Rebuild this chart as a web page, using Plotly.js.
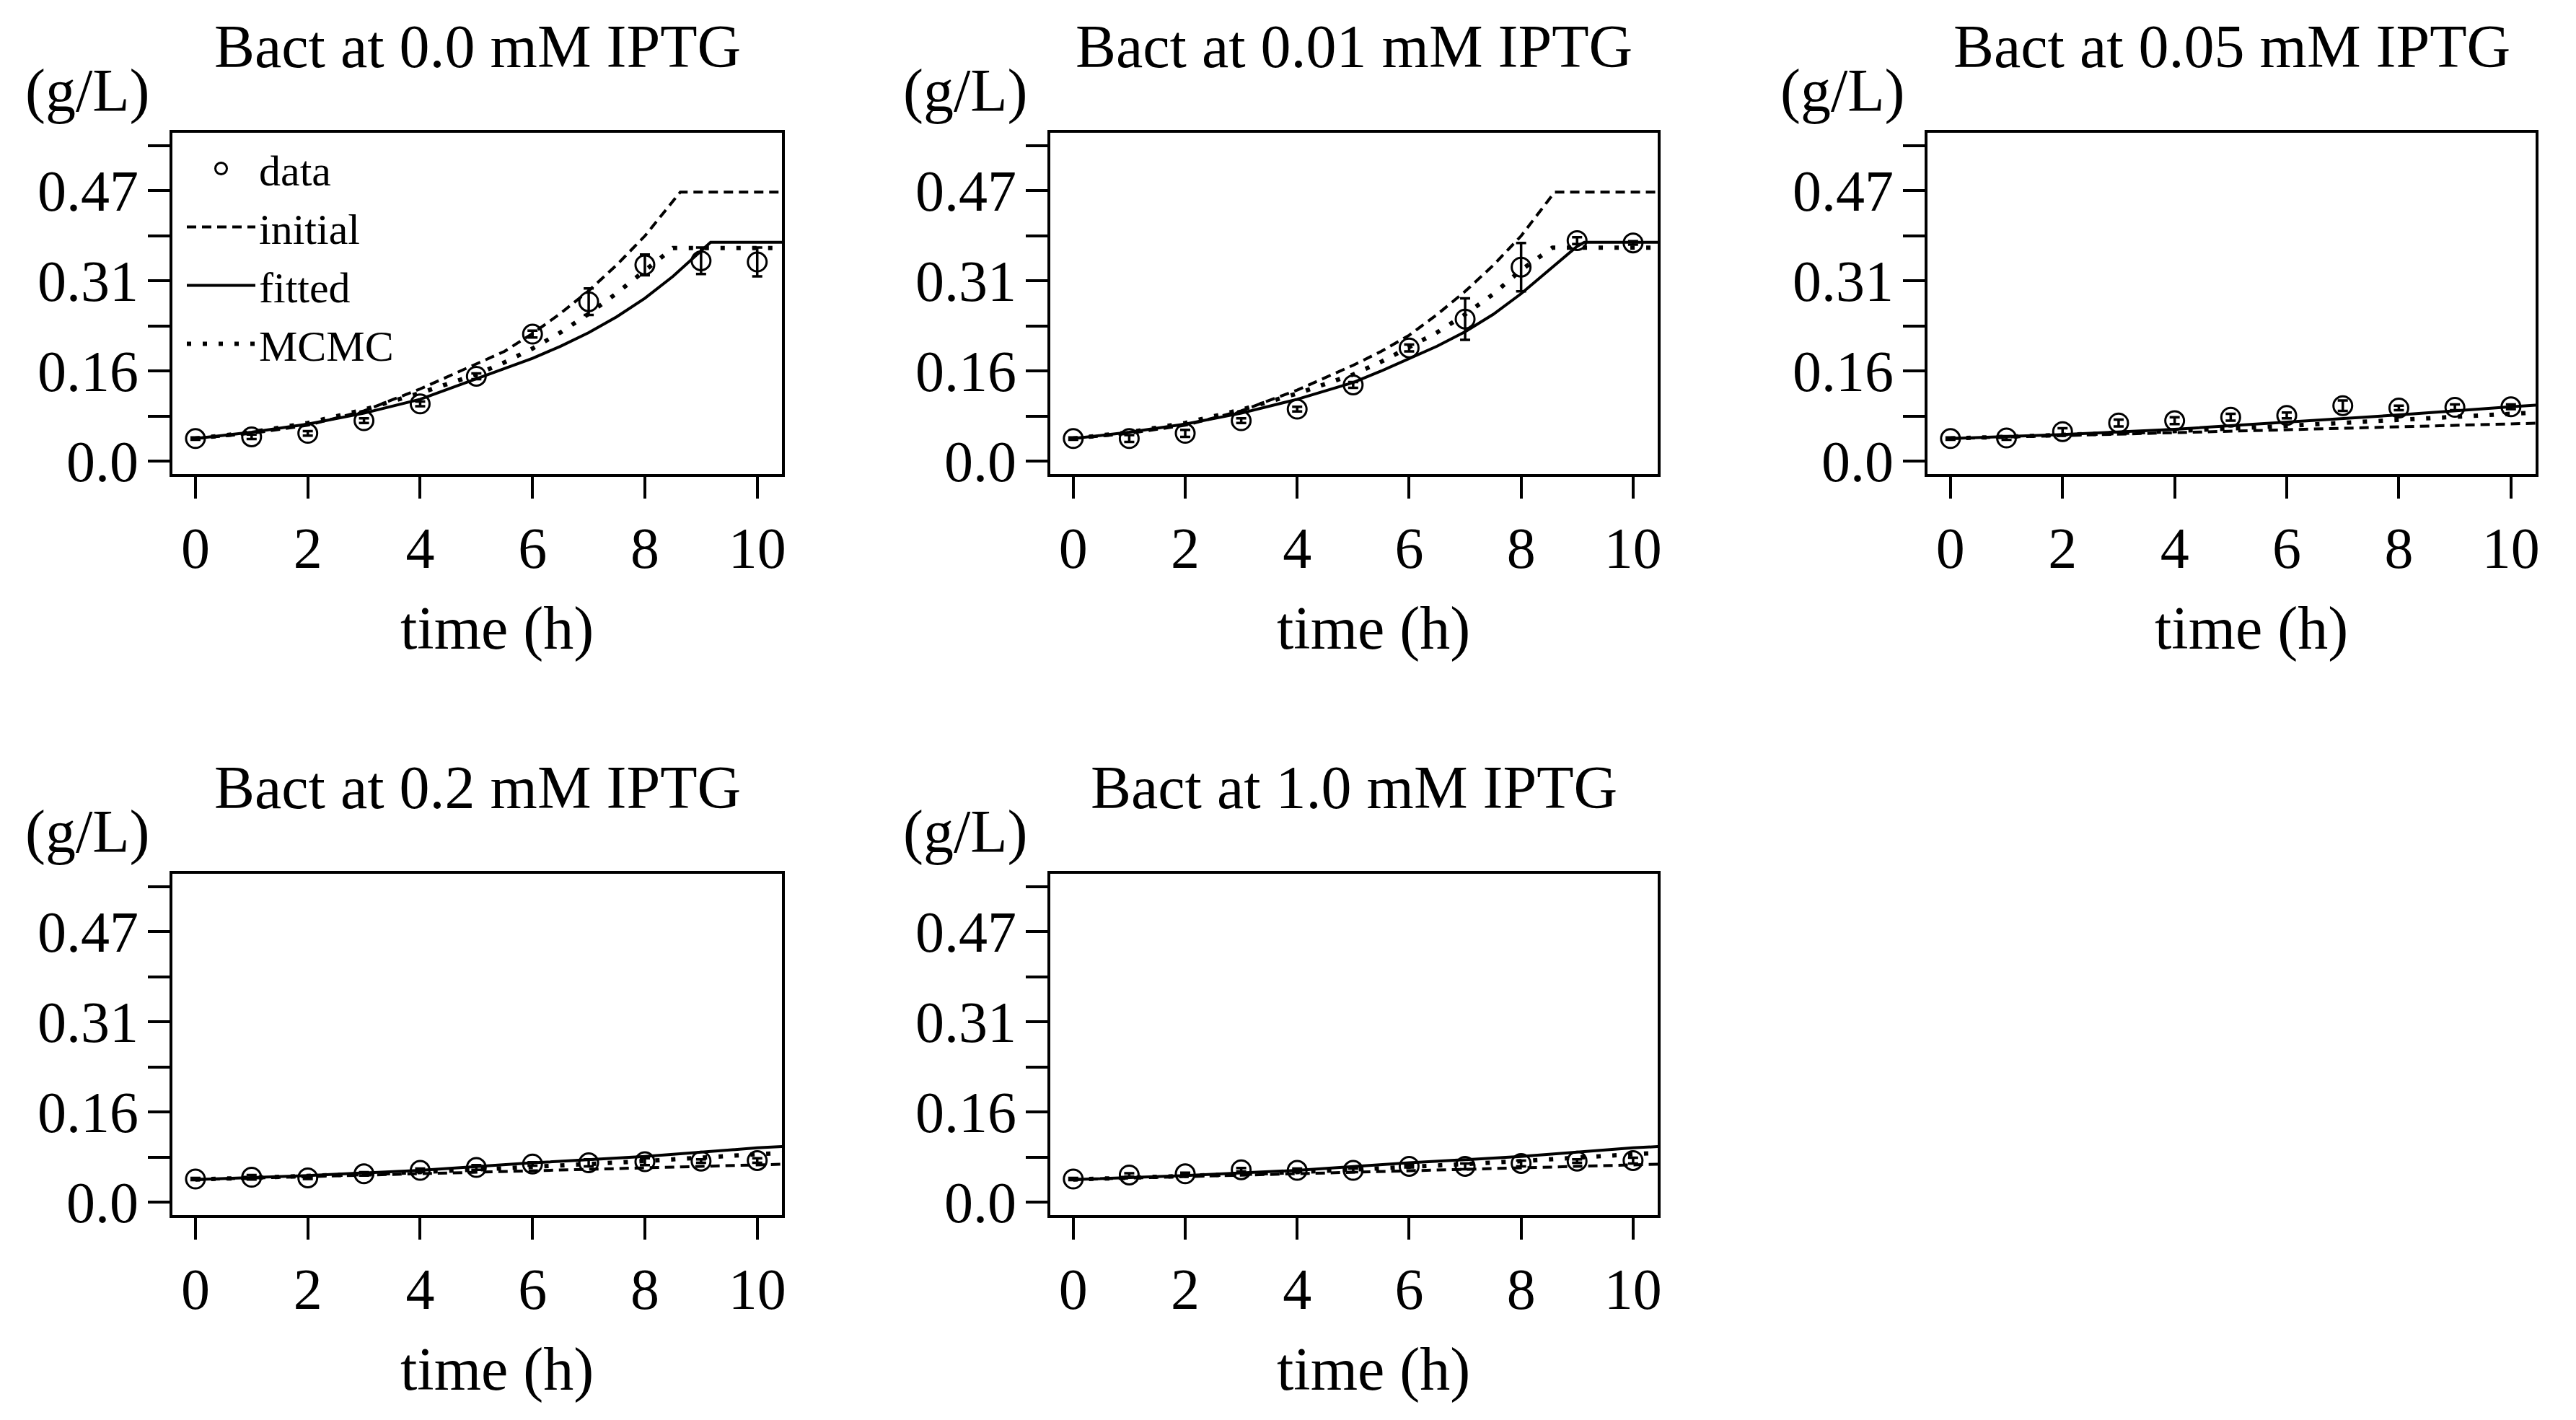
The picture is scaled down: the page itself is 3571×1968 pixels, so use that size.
<!DOCTYPE html>
<html>
<head>
<meta charset="utf-8">
<script src="https://cdn.plot.ly/plotly-3.0.1.min.js"></script>
<style>
  html, body { margin: 0; padding: 0; background: #fff; }
</style>
</head>
<body>
<div id="chart" style="width:3571px;height:1968px"></div>
<script>
// ── Canvas ───────────────────────────────────────────────────
const W = 3571, H = 1968;
const FONT = '"Liberation Serif", "DejaVu Serif", serif';
const INK = '#000000';

// ── Data ─────────────────────────────────────────────────────
const TIME = [0, 1, 2, 3, 4, 5, 6, 7, 8, 9, 10];
const TITLES = [
  'Bact at 0.0 mM IPTG', 'Bact at 0.01 mM IPTG', 'Bact at 0.05 mM IPTG',
  'Bact at 0.2 mM IPTG', 'Bact at 1.0 mM IPTG',
];
const Y_TICKS = [0, 0.078125, 0.15625, 0.234375, 0.3125, 0.390625, 0.46875, 0.546875];
const Y_LABELS = ['0.0', '', '0.16', '', '0.31', '', '0.47', ''];
const X_TICKS = [0, 2, 4, 6, 8, 10];

// measured points + error bars
const DATA_1 = [0.039, 0.042, 0.048, 0.070, 0.099, 0.147, 0.220, 0.276, 0.340, 0.347, 0.345];
const ERR_1  = [0.002, 0.004, 0.004, 0.004, 0.004, 0.005, 0.006, 0.023, 0.018, 0.023, 0.025];
const DATA_2 = [0.039, 0.039, 0.048, 0.070, 0.090, 0.132, 0.196, 0.246, 0.336, 0.382, 0.378];
const ERR_2  = [0.002, 0.006, 0.006, 0.004, 0.004, 0.005, 0.006, 0.036, 0.042, 0.006, 0.003];
const DATA_3 = [0.039, 0.040, 0.051, 0.066, 0.070, 0.076, 0.079, 0.096, 0.092, 0.093, 0.094];
const ERR_3  = [0.002, 0.003, 0.006, 0.006, 0.006, 0.006, 0.005, 0.009, 0.004, 0.005, 0.004];
const DATA_4 = [0.040, 0.043, 0.042, 0.049, 0.055, 0.060, 0.066, 0.068, 0.070, 0.071, 0.072];
const ERR_4  = [0.002, 0.004, 0.002, 0.003, 0.003, 0.004, 0.003, 0.006, 0.006, 0.003, 0.004];
const DATA_5 = [0.040, 0.047, 0.049, 0.056, 0.055, 0.055, 0.062, 0.062, 0.067, 0.071, 0.072];
const ERR_5  = [0.002, 0.003, 0.002, 0.003, 0.003, 0.003, 0.002, 0.005, 0.005, 0.003, 0.005];

// model curves, panels 1 and 2 (plateau after the kink)
const INIT_X_1 = [0, 1, 2, 3, 4, 5, 5.5, 6, 6.5, 7, 7.5, 8, 8.63, 10.6];
const INIT_Y_1 = [0.039, 0.048, 0.062, 0.087, 0.125, 0.168, 0.190, 0.221, 0.256, 0.295, 0.340, 0.390, 0.466, 0.466];
const FIT_X_1  = [0, 1, 2, 3, 4, 5, 5.5, 6, 6.5, 7, 7.5, 8, 8.5, 9, 9.17, 10.6];
const FIT_Y_1  = [0.039, 0.050, 0.064, 0.083, 0.107, 0.1425, 0.159, 0.178, 0.199, 0.2225, 0.250, 0.282, 0.320, 0.364, 0.379, 0.379];
const MCMC_X_1 = [0, 1, 2, 3, 4, 5, 5.5, 6, 6.5, 7, 7.5, 8, 8.5, 10.6];
const MCMC_Y_1 = [0.039, 0.050, 0.066, 0.089, 0.118, 0.150, 0.171, 0.195, 0.223, 0.255, 0.291, 0.331, 0.369, 0.369];

const INIT_X_2 = [0, 1, 2, 3, 4, 5, 5.5, 6, 6.5, 7, 7.5, 8, 8.6, 10.6];
const INIT_Y_2 = [0.039, 0.048, 0.062, 0.087, 0.123, 0.166, 0.190, 0.218, 0.254, 0.294, 0.339, 0.390, 0.466, 0.466];
const FIT_X_2  = [0, 1, 2, 3, 4, 5, 5.5, 6, 6.5, 7, 7.5, 8, 8.5, 9, 9.13, 10.6];
const FIT_Y_2  = [0.039, 0.050, 0.064, 0.083, 0.107, 0.136, 0.156, 0.177, 0.199, 0.224, 0.254, 0.290, 0.331, 0.372, 0.379, 0.379];
const MCMC_X_2 = [0, 1, 2, 3, 4, 5, 5.5, 6, 6.5, 7, 7.5, 8, 8.56, 10.6];
const MCMC_Y_2 = [0.039, 0.050, 0.066, 0.089, 0.117, 0.150, 0.172, 0.197, 0.223, 0.254, 0.289, 0.331, 0.3696, 0.3696];

// model curves, panels 3-5 (almost flat)
const LOW_X    = [0, 2, 4, 6, 8, 10, 10.6];
const INIT_Y_3 = [0.039, 0.044, 0.049, 0.055, 0.059, 0.065, 0.066];
const FIT_Y_3  = [0.039, 0.046, 0.055, 0.067, 0.080, 0.094, 0.098];
const MCMC_Y_3 = [0.039, 0.045, 0.052, 0.061, 0.071, 0.082, 0.085];
const INIT_Y_4 = [0.039, 0.044, 0.049, 0.055, 0.060, 0.064, 0.066];
const FIT_Y_4  = [0.039, 0.046, 0.055, 0.068, 0.079, 0.094, 0.097];
const MCMC_Y_4 = [0.039, 0.045, 0.052, 0.061, 0.071, 0.083, 0.086];
const INIT_Y_5 = [0.039, 0.044, 0.049, 0.055, 0.060, 0.064, 0.066];
const FIT_Y_5  = [0.039, 0.046, 0.055, 0.068, 0.079, 0.094, 0.097];
const MCMC_Y_5 = [0.039, 0.045, 0.052, 0.061, 0.071, 0.083, 0.086];

// ── Panel geometry (px boxes of the plot areas) ──────────────
const BOXES = [
  { l: 239,  r: 1084, t: 184,  b: 657 },
  { l: 1456, r: 2298, t: 184,  b: 657 },
  { l: 2672, r: 3515, t: 184,  b: 657 },
  { l: 239,  r: 1084, t: 1211, b: 1684 },
  { l: 1456, r: 2298, t: 1211, b: 1684 },
];

const PANELS = [
  { data: DATA_1, err: ERR_1, init: [INIT_X_1, INIT_Y_1], fit: [FIT_X_1, FIT_Y_1], mcmc: [MCMC_X_1, MCMC_Y_1] },
  { data: DATA_2, err: ERR_2, init: [INIT_X_2, INIT_Y_2], fit: [FIT_X_2, FIT_Y_2], mcmc: [MCMC_X_2, MCMC_Y_2] },
  { data: DATA_3, err: ERR_3, init: [LOW_X, INIT_Y_3], fit: [LOW_X, FIT_Y_3], mcmc: [LOW_X, MCMC_Y_3] },
  { data: DATA_4, err: ERR_4, init: [LOW_X, INIT_Y_4], fit: [LOW_X, FIT_Y_4], mcmc: [LOW_X, MCMC_Y_4] },
  { data: DATA_5, err: ERR_5, init: [LOW_X, INIT_Y_5], fit: [LOW_X, FIT_Y_5], mcmc: [LOW_X, MCMC_Y_5] },
];

// ── Styles ───────────────────────────────────────────────────
const LINE_INIT = { color: INK, width: 4, dash: '13px,8px' };
const LINE_FIT  = { color: INK, width: 4 };
const LINE_MCMC = { color: INK, width: 6, dash: '6px,16px' };
const TICK_FONT = { family: FONT, size: 80, color: INK };
const TEXT_FONT = { family: FONT, size: 84, color: INK };

// ── Helpers ──────────────────────────────────────────────────
const axSuffix = i => (i === 0 ? '' : String(i + 1));

function xAxis(box, i) {
  return {
    domain: [box.l / W, box.r / W],
    anchor: 'y' + axSuffix(i),
    range: [-0.41, 10.44],
    tickmode: 'array', tickvals: X_TICKS,
    ticks: 'outside', ticklen: 30, tickwidth: 4, tickcolor: INK,
    ticklabelstandoff: 0,
    showline: true, mirror: true, linewidth: 4, linecolor: INK,
    showgrid: false, zeroline: false, fixedrange: true,
    tickfont: TICK_FONT,
  };
}

function yAxis(box, i) {
  return {
    domain: [1 - box.b / H, 1 - box.t / H],
    anchor: 'x' + axSuffix(i),
    range: [-0.0225, 0.5688],
    tickmode: 'array', tickvals: Y_TICKS, ticktext: Y_LABELS,
    ticks: 'outside', ticklen: 30, tickwidth: 4, tickcolor: INK,
    ticklabelstandoff: -3,
    showline: true, mirror: true, linewidth: 4, linecolor: INK,
    showgrid: false, zeroline: false, fixedrange: true,
    tickfont: TICK_FONT,
  };
}

function panelTraces(p, i) {
  const xa = 'x' + axSuffix(i), ya = 'y' + axSuffix(i);
  const first = i === 0;
  return [
    { type: 'scatter', mode: 'lines', x: p.init[0], y: p.init[1], xaxis: xa, yaxis: ya,
      name: 'initial', line: LINE_INIT, showlegend: first, legendrank: 2, hoverinfo: 'skip' },
    { type: 'scatter', mode: 'lines', x: p.fit[0], y: p.fit[1], xaxis: xa, yaxis: ya,
      name: 'fitted', line: LINE_FIT, showlegend: first, legendrank: 3, hoverinfo: 'skip' },
    { type: 'scatter', mode: 'lines', x: p.mcmc[0], y: p.mcmc[1], xaxis: xa, yaxis: ya,
      name: 'MCMC', line: LINE_MCMC, showlegend: first, legendrank: 4, hoverinfo: 'skip' },
    { type: 'scatter', mode: 'markers', x: TIME, y: p.data, xaxis: xa, yaxis: ya,
      name: 'data', showlegend: first, legendrank: 1,
      marker: { symbol: 'circle-open', size: 26, color: INK, line: { width: 3, color: INK } },
      error_y: { type: 'data', array: p.err, visible: true, color: INK, thickness: 3.5, width: 7 },
    },
  ];
}

function panelAnnotations(i) {
  const xr = 'x' + axSuffix(i) + ' domain', yr = 'y' + axSuffix(i) + ' domain';
  return [
    { text: TITLES[i], xref: xr, yref: yr, x: 0.5, y: 1.2516, xanchor: 'center', yanchor: 'middle',
      showarrow: false, font: TEXT_FONT },
    { text: '(g/L)', xref: xr, yref: yr, x: -0.1396, y: 1.1226, xanchor: 'center', yanchor: 'middle',
      showarrow: false, font: TEXT_FONT },
    { text: 'time (h)', xref: xr, yref: yr, x: 0.5325, y: -0.4524, xanchor: 'center', yanchor: 'middle',
      showarrow: false, font: TEXT_FONT },
  ];
}

// ── Build ────────────────────────────────────────────────────
const traces = [];
const layout = {
  width: W, height: H,
  margin: { l: 0, r: 0, t: 0, b: 0 },
  paper_bgcolor: '#ffffff', plot_bgcolor: '#ffffff',
  font: { family: FONT, color: INK },
  showlegend: true,
  legend: {
    x: 254 / W, y: 1 - 188 / H, xanchor: 'left', yanchor: 'top',
    bgcolor: 'rgba(0,0,0,0)', borderwidth: 0,
    font: { family: FONT, size: 60, color: INK },
    tracegroupgap: 0, itemwidth: 95,
  },
  annotations: [],
};

PANELS.forEach((p, i) => {
  traces.push(...panelTraces(p, i));
  layout['xaxis' + axSuffix(i)] = xAxis(BOXES[i], i);
  layout['yaxis' + axSuffix(i)] = yAxis(BOXES[i], i);
  layout.annotations.push(...panelAnnotations(i));
});

Plotly.newPlot('chart', traces, layout, { displayModeBar: false, staticPlot: true });
</script>
</body>
</html>
